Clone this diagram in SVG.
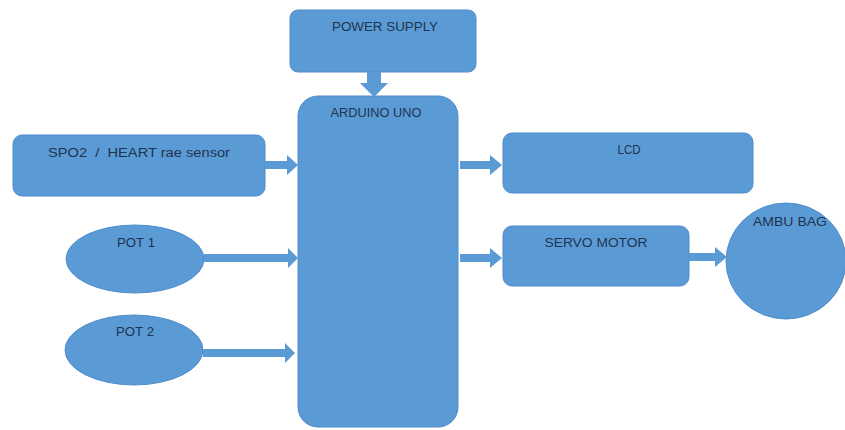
<svg xmlns="http://www.w3.org/2000/svg" width="845" height="430" viewBox="0 0 845 430">
<style>
.n{fill:#5b9bd5;stroke:#4f8ccb;stroke-width:1}
.t{font-family:"Liberation Sans",Arial,sans-serif;font-size:12px;fill:#1f3350;text-anchor:middle}
.a{fill:#5b9bd5;stroke:none}
</style>
<rect width="845" height="430" fill="#ffffff"/>
<g id="power-supply"><rect class="n" x="290" y="10" width="186" height="62" rx="8"/><text class="t" x="385" y="31" textLength="106" lengthAdjust="spacingAndGlyphs">POWER SUPPLY</text></g>
<g id="arduino"><rect class="n" x="298" y="96" width="160" height="331" rx="20"/><text class="t" x="376" y="117" textLength="91" lengthAdjust="spacingAndGlyphs">ARDUINO UNO</text></g>
<g id="spo2"><rect class="n" x="13" y="135" width="252" height="61" rx="9"/><text class="t" x="139" y="157" textLength="182" lengthAdjust="spacingAndGlyphs" xml:space="preserve">SPO2  /  HEART rae sensor</text></g>
<g id="pot1"><ellipse class="n" cx="135" cy="259" rx="69" ry="34"/><text class="t" x="136" y="247" textLength="38" lengthAdjust="spacingAndGlyphs">POT 1</text></g>
<g id="pot2"><ellipse class="n" cx="134" cy="350" rx="69" ry="35"/><text class="t" x="135" y="336" textLength="38" lengthAdjust="spacingAndGlyphs">POT 2</text></g>
<g id="lcd"><rect class="n" x="503" y="133" width="250" height="60" rx="9"/><text class="t" x="629" y="154" textLength="23" lengthAdjust="spacingAndGlyphs">LCD</text></g>
<g id="servo"><rect class="n" x="503" y="226" width="186" height="60" rx="9"/><text class="t" x="596" y="247" textLength="103" lengthAdjust="spacingAndGlyphs">SERVO MOTOR</text></g>
<g id="ambu"><ellipse class="n" cx="786" cy="261" rx="60" ry="58"/><text class="t" x="790" y="226" textLength="74" lengthAdjust="spacingAndGlyphs">AMBU BAG</text></g>
<g id="connectors">
<polygon class="a" points="367,72 381,72 381,83 388,83 374,97 360,83 367,83"/>
<polygon class="a" points="265,161 287,161 287,155 298,165 287,175 287,169 265,169"/>
<polygon class="a" points="204,254 288,254 288,248 298,258 288,268 288,262 204,262"/>
<polygon class="a" points="203,349 285,349 285,343 295,353 285,363 285,357 203,357"/>
<polygon class="a" points="460,161 490,161 490,155 502,165 490,175 490,169 460,169"/>
<polygon class="a" points="460,254 490,254 490,248 502,258 490,268 490,262 460,262"/>
<polygon class="a" points="689,253 715,253 715,247 727,257 715,267 715,261 689,261"/>
</g>
</svg>
